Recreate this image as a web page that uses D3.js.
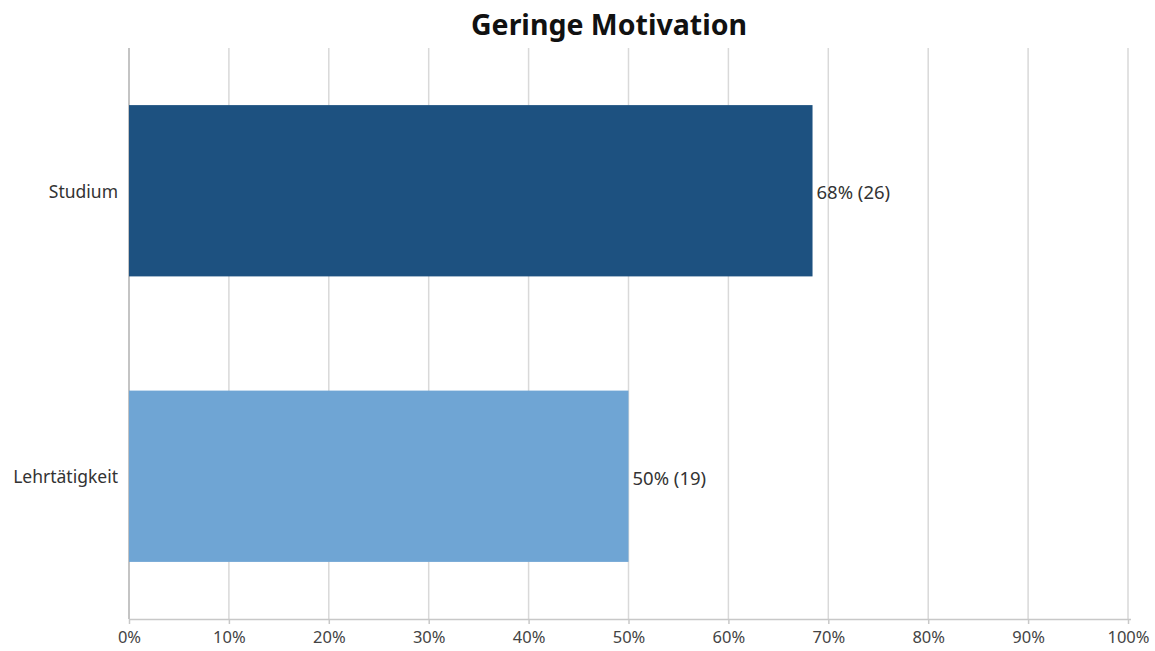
<!DOCTYPE html>
<html>
<head>
<meta charset="utf-8">
<script src="https://cdn.jsdelivr.net/npm/d3@7"></script>
<style>
  html, body { margin: 0; padding: 0; background: #fff; }
  svg { display: block; }
  text { font-family: "Noto Sans", "Open Sans", sans-serif; }
</style>
</head>
<body>
<div id="chart"></div>
<script>
// Survey answers: "Geringe Motivation"
const title = "Geringe Motivation";
const categories = ["Studium", "Lehrtätigkeit"];
const counts = [26, 19];
const totalRespondents = 38;
const barColors = ["#1d5180", "#6fa5d4"];
const tickValues = [0, 0.1, 0.2, 0.3, 0.4, 0.5, 0.6, 0.7, 0.8, 0.9, 1.0];

const width = 1155, height = 651;
const margin = { top: 48, right: 27, bottom: 32, left: 129 };
const fontStack = "\"Noto Sans\", \"Open Sans\", sans-serif";

const shares = counts.map(c => c / totalRespondents);

const svg = d3.select("#chart").append("svg")
  .attr("width", width).attr("height", height);

const x = d3.scaleLinear().domain([0, 1]).range([margin.left, width - margin.right]);
const y = d3.scaleBand().domain(categories)
  .range([margin.top, height - margin.bottom])
  .paddingInner(0.4).paddingOuter(0.2);

// vertical gridlines
svg.append("g").selectAll("line").data(tickValues).join("line")
  .attr("x1", d => x(d)).attr("x2", d => x(d))
  .attr("y1", margin.top).attr("y2", height - margin.bottom)
  .attr("stroke", d => d === 0 ? "#b0b0b0" : "#d9d9d9")
  .attr("stroke-width", 1.5);

// bars
svg.append("g").selectAll("rect").data(categories).join("rect")
  .attr("x", x(0))
  .attr("y", d => y(d))
  .attr("width", (d, i) => x(shares[i]) - x(0))
  .attr("height", y.bandwidth())
  .attr("fill", (d, i) => barColors[i]);

// value labels
svg.append("g").selectAll("text").data(categories).join("text")
  .attr("x", (d, i) => x(shares[i]) + 4)
  .attr("y", d => y(d) + y.bandwidth() / 2 + 2)
  .attr("dy", "0.35em")
  .attr("font-size", 18.5)
  .attr("fill", "#333")
  .text((d, i) => `${Math.round(shares[i] * 100)}% (${counts[i]})`);

// x axis
const xAxis = d3.axisBottom(x)
  .tickValues(tickValues)
  .tickFormat(d3.format(".0%"))
  .tickSize(5)
  .tickSizeOuter(0);
const gx = svg.append("g")
  .attr("transform", `translate(0,${height - margin.bottom})`)
  .call(xAxis);
gx.select(".domain").attr("stroke", "#c8c8c8").attr("stroke-width", 1.5)
  .attr("d", `M${x(0)},0.5H${x(1) + 3}`);
gx.selectAll(".tick line").attr("stroke", "#c8c8c8").attr("stroke-width", 1.5);
gx.selectAll(".tick text")
  .attr("font-family", fontStack)
  .attr("font-size", 16.5).attr("fill", "#444").attr("dy", "0.95em");

// category labels
const gy = svg.append("g")
  .attr("transform", `translate(${margin.left},0)`)
  .call(d3.axisLeft(y).tickSize(0).tickPadding(11));
gy.select(".domain").remove();
gy.selectAll(".tick text")
  .attr("font-family", fontStack)
  .attr("font-size", 17.5).attr("fill", "#333").attr("dy", "0.4em");

// title
svg.append("text")
  .attr("x", 609).attr("y", 35)
  .attr("text-anchor", "middle")
  .attr("font-size", 28.5).attr("font-weight", "bold")
  .attr("fill", "#111")
  .text(title);
</script>
</body>
</html>
